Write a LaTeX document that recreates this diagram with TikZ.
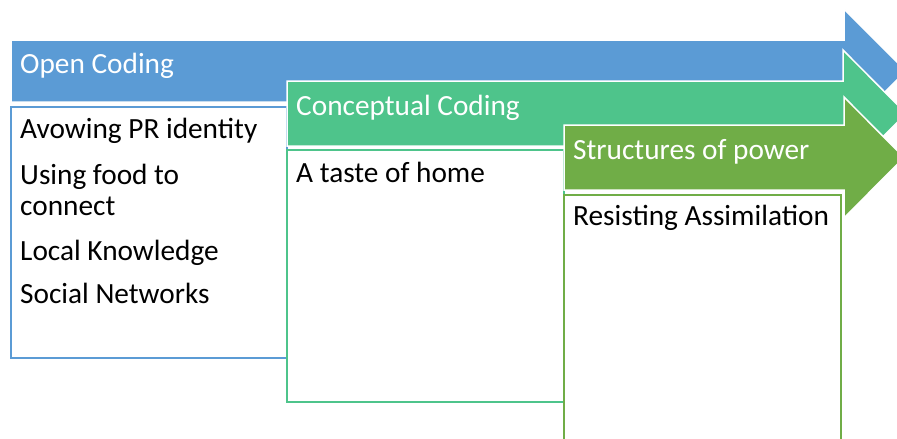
\documentclass[tikz,border=0pt]{standalone}
\usepackage{fontspec}
\setmainfont{Carlito}
\definecolor{stageblue}{HTML}{5B9BD5}
\definecolor{stageteal}{HTML}{4EC48B}
\definecolor{stagegreen}{HTML}{70AD47}
\tikzset{
  stagearrow/.style={fill=#1, draw=white, line width=1.5pt, line join=miter},
  stagebox/.style={fill=white, draw=#1, line width=2.8pt},
  headtext/.style={anchor=base west, inner sep=0pt, text=white,
    font=\fontsize{29.3}{31}\selectfont},
  itemtext/.style={anchor=base west, inner sep=0pt, text=black, align=left,
    font=\fontsize{29.3}{31}\selectfont}
}
\begin{document}
\begin{tikzpicture}[x=1pt, y=-1pt]
  \useasboundingbox (0,0) rectangle (897,439);
  \clip (0,0) rectangle (897,439);

  % stage 1: open coding
  \path[stagearrow=stageblue] (11,40) -- (844,40) -- (844,9) -- (906,71)
    -- (844,133) -- (844,102) -- (11,102) -- cycle;
  \node[headtext] (h1) at (20,73) {Open Coding};
  \draw[stagebox=stageblue] (11,107) rectangle (287,358);
  \node[itemtext] (a1) at (20,138) {Avowing PR identity};
  \node[itemtext] (a2) at (20,184) {Using food to};
  \node[itemtext] (a3) at (20,215) {connect};
  \node[itemtext] (a4) at (20,260) {Local Knowledge};
  \node[itemtext] (a5) at (20,303) {Social Networks};

  % stage 2: conceptual coding
  \path[stagearrow=stageteal] (287,81) -- (843,81) -- (843,50) -- (906,113.5)
    -- (843,177) -- (843,146) -- (287,146) -- cycle;
  \node[headtext] (h2) at (296,115) {Conceptual Coding};
  \draw[stagebox=stageteal] (287,150) rectangle (564,402);
  \node[itemtext] (b1) at (296,182) {A taste of home};

  % stage 3: structures of power
  \path[stagearrow=stagegreen] (564,125) -- (844,125) -- (844,97) -- (904,157.5)
    -- (844,218) -- (844,190) -- (564,190) -- cycle;
  \node[headtext] (h3) at (573,159) {Structures of power};
  \draw[stagebox=stagegreen] (564,195) rectangle (841,470);
  \node[itemtext] (c1) at (573,225) {Resisting Assimilation};
\end{tikzpicture}
\end{document}
